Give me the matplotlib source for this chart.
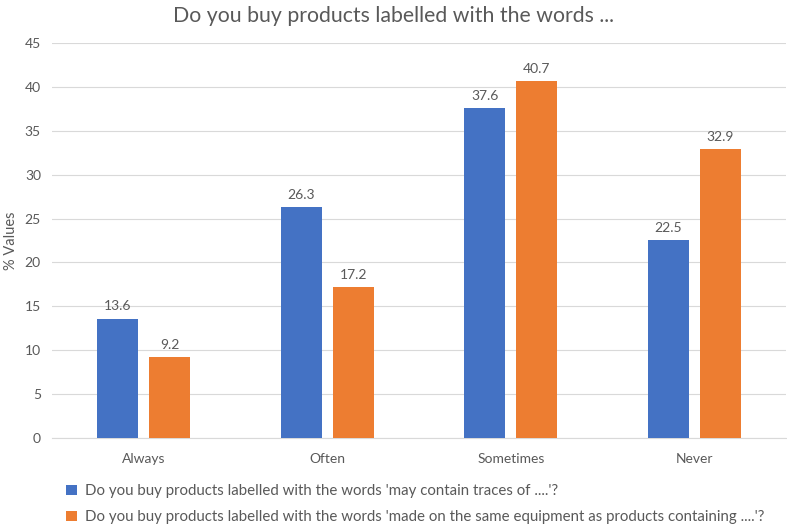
import numpy as np
import matplotlib.pyplot as plt
import matplotlib as mpl

mpl.rcParams['font.family'] = ['Lato', 'DejaVu Sans']

categories = ['Always', 'Often', 'Sometimes', 'Never']
traces_vals = [13.6, 26.3, 37.6, 22.5]
equipment_vals = [9.2, 17.2, 40.7, 32.9]
series_names = [
    "Do you buy products labelled with the words 'may contain traces of ....'?",
    "Do you buy products labelled with the words 'made on the same equipment as products containing ....'?",
]
yticks = [0, 5, 10, 15, 20, 25, 30, 35, 40, 45]

BLUE = '#4472C4'
ORANGE = '#ED7D31'
TXT = '#595959'

fig = plt.figure(figsize=(7.87, 5.24), dpi=100)
ax = fig.add_axes([52 / 787, 1 - 438 / 524, 734 / 787, 395 / 524])

x = np.arange(len(categories))
w = 0.223
off = 0.1416
b1 = ax.bar(x - off, traces_vals, w, color=BLUE, label=series_names[0], zorder=3)
b2 = ax.bar(x + off, equipment_vals, w, color=ORANGE, label=series_names[1], zorder=3)
for bars in (b1, b2):
    for r in bars:
        ax.text(r.get_x() + r.get_width() / 2, r.get_height() + 0.7,
                f'{r.get_height():.1f}', ha='center', va='bottom',
                fontsize=10, color=TXT)

ax.set_xlim(-0.5, len(categories) - 0.5)
ax.set_ylim(0, 45)
ax.set_yticks(yticks)
ax.set_xticks(x)
ax.set_xticklabels(categories)
ax.tick_params(axis='both', length=0, labelsize=10, colors=TXT)
ax.tick_params(axis='y', pad=8)
ax.tick_params(axis='x', pad=11)
ax.grid(axis='y', color='#D9D9D9', lw=0.8, zorder=0)
for s in ['top', 'right', 'left']:
    ax.spines[s].set_visible(False)
ax.spines['bottom'].set_color('#D9D9D9')
ax.set_ylabel('% Values', fontsize=10.5, color=TXT)
ax.yaxis.set_label_coords(-34 / 734, 0.5)

fig.suptitle('Do you buy products labelled with the words ...', y=0.988,
             fontsize=15.3, color=TXT)

fig.legend(handles=[b1, b2], loc='upper left', bbox_to_anchor=(66 / 787, 1 - 484 / 524),
           frameon=False, fontsize=10.8, labelcolor=TXT, handlelength=0.7,
           handleheight=0.7, handletextpad=0.55, labelspacing=0.8,
           borderpad=0, borderaxespad=0)

fig.savefig('out.png', dpi=100)
